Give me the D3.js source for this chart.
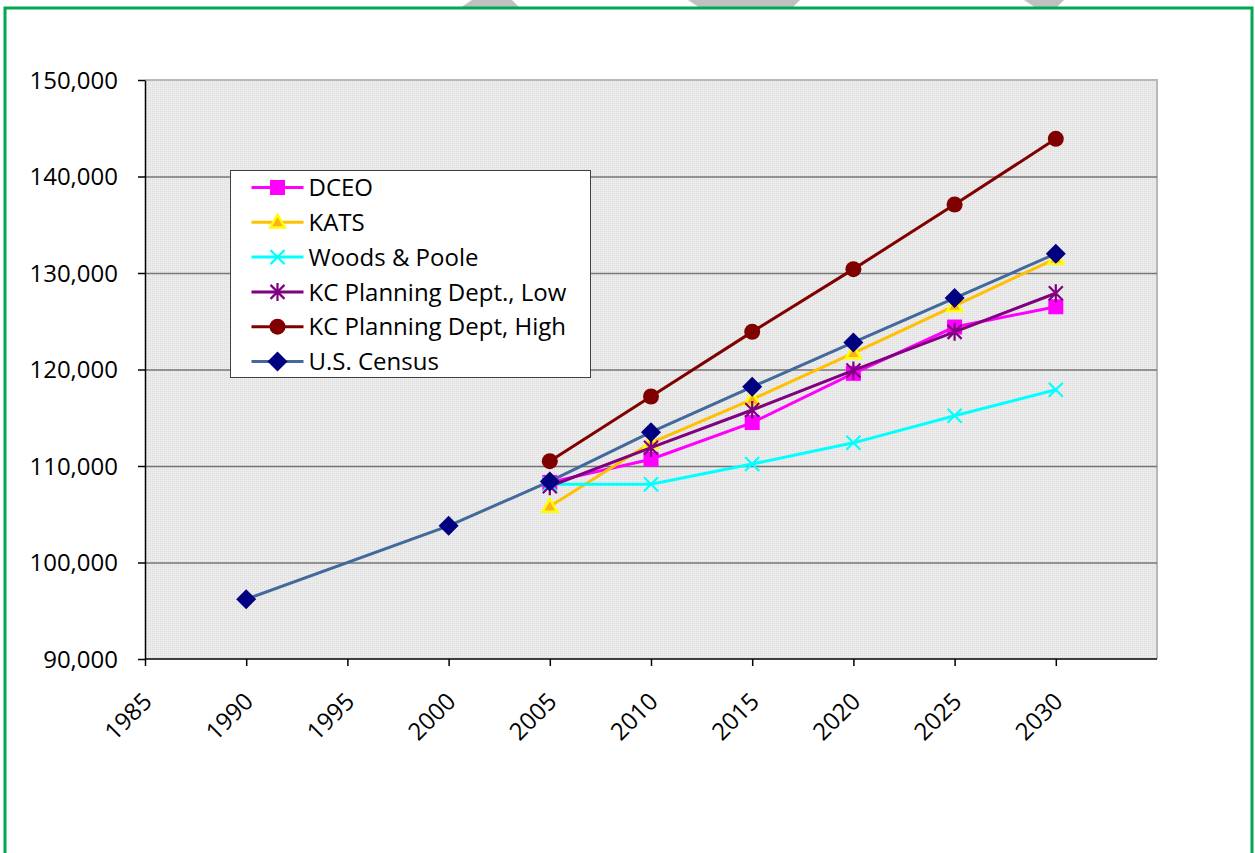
<!DOCTYPE html>
<html>
<head>
<meta charset="utf-8">
<script src="https://cdn.jsdelivr.net/npm/d3@7"></script>
<style>
    body { margin: 0; background: #ffffff; }
    svg text { font-family: "Open Sans", "DejaVu Sans", sans-serif; fill: #000000; }
</style>
</head>
<body>
<div id="charts"></div>
<script>
// Years for each series.
const census_years = [1990, 2000, 2005, 2010, 2015, 2020, 2025, 2030];
const proj_years = [2005, 2010, 2015, 2020, 2025, 2030];

// Population values.
const dceo = [108300, 110700, 114500, 119600, 124400, 126500];
const kats = [105800, 112400, 116900, 121700, 126600, 131500];
const woods_poole = [108100, 108100, 110200, 112400, 115200, 117900];
const kc_low = [107900, 111900, 115800, 119900, 123900, 127900];
const kc_high = [110500, 117200, 123900, 130400, 137100, 143900];
const us_census = [96200, 103800, 108400, 113500, 118200, 122800, 127400, 132000];

// Axis ticks.
const x_ticks = [1985, 1990, 1995, 2000, 2005, 2010, 2015, 2020, 2025, 2030];
const y_ticks = [90000, 100000, 110000, 120000, 130000, 140000, 150000];

const series = [
    { name: "DCEO", years: proj_years, values: dceo, line: "#ff00ff", marker: "square", fill: "#ff00ff", stroke: "none" },
    { name: "KATS", years: proj_years, values: kats, line: "#ffc000", marker: "triangle", fill: "#ffb020", stroke: "#ffff00" },
    { name: "Woods & Poole", years: proj_years, values: woods_poole, line: "#00ffff", marker: "x", fill: "none", stroke: "#00ffff" },
    { name: "KC Planning Dept., Low", years: proj_years, values: kc_low, line: "#800080", marker: "star", fill: "none", stroke: "#800080" },
    { name: "KC Planning Dept, High", years: proj_years, values: kc_high, line: "#800000", marker: "circle", fill: "#800000", stroke: "none" },
    { name: "U.S. Census", years: census_years, values: us_census, line: "#41699b", marker: "diamond", fill: "#000080", stroke: "none" }
];

let svg_width = 1255, svg_height = 853;
let margin = { top: 80, right: 98, bottom: 194, left: 145 },
    width = svg_width - margin.left - margin.right,
    height = svg_height - margin.top - margin.bottom;

let root = d3.select("#charts")
    .append("svg")
        .attr("width", svg_width)
        .attr("height", svg_height);

// Page border and the bits of decoration peeking in at the top.
let deco = [
    [[472, 0], [512, 0], [520, 8], [460, 8]],
    [[688, 0], [800, 0], [792, 8], [700, 8]],
    [[1024, 0], [1064, 0], [1056, 8], [1036, 8]]
];
root.selectAll(".deco")
    .data(deco)
    .enter()
    .append("path")
        .attr("d", d => "M" + d.join("L") + "Z")
        .attr("fill", "#c0c0c0");
root.append("path")
    .attr("d", "M5,853 V8 H1252 V853")
    .attr("fill", "none")
    .attr("stroke", "#00a84f")
    .attr("stroke-width", 3);

// Dotted fill pattern for the plot area.
let pattern = root.append("defs")
    .append("pattern")
        .attr("id", "dots")
        .attr("patternUnits", "userSpaceOnUse")
        .attr("width", 4)
        .attr("height", 4);
pattern.append("rect").attr("width", 4).attr("height", 4).attr("fill", "#e4e4e4");
pattern.append("rect").attr("x", 0).attr("y", 0).attr("width", 1).attr("height", 1).attr("fill", "#f8f8f8");
pattern.append("rect").attr("x", 2).attr("y", 2).attr("width", 1).attr("height", 1).attr("fill", "#f8f8f8");
pattern.append("rect").attr("x", 2).attr("y", 0).attr("width", 1).attr("height", 1).attr("fill", "#eeeeee");
pattern.append("rect").attr("x", 0).attr("y", 2).attr("width", 1).attr("height", 1).attr("fill", "#eeeeee");

let svg = root.append("g")
    .attr("transform", "translate(" + margin.left + "," + margin.top + ")");

// Define scales.
let x_scale = d3.scaleLinear()
    .domain([1985, 2035])
    .range([0, width]);
let y_scale = d3.scaleLinear()
    .domain([90000, 150000])
    .range([height, 0]);

// Fill the background.
svg.append("rect")
    .attr("width", width)
    .attr("height", height)
    .attr("fill", "url(#dots)");
svg.append("path")
    .attr("d", "M0,0 H" + width + " V" + height)
    .attr("fill", "none")
    .attr("stroke", "#b8b8b8")
    .attr("stroke-width", 2);

// Add the grid lines.
let y_axis_grid = d3.axisLeft(y_scale)
    .tickValues(y_ticks.slice(1, -1))
    .tickSize(-width)
    .tickFormat("");
svg.append("g")
    .attr("class", "y axis-grid")
    .call(y_axis_grid)
    .call(g => g.select(".domain").remove())
    .selectAll("line")
        .attr("stroke", "#767676")
        .attr("stroke-width", 1.3);

// Add the Y axis.
svg.append("g")
    .attr("class", "y_axis")
    .call(d3.axisLeft(y_scale).tickValues(y_ticks).tickSize(7).tickSizeOuter(0).tickPadding(20).tickFormat(d3.format(",")))
    .call(g => g.selectAll("text").style("font-size", "24px").attr("dy", "0.35em"))
    .call(g => g.selectAll("line, .domain").attr("stroke", "#000000").attr("stroke-width", 1.5));

// Add the X axis.
svg.append("g")
    .attr("class", "x_axis")
    .attr("transform", "translate(0," + height + ")")
    .call(d3.axisBottom(x_scale).tickValues(x_ticks).tickSize(7).tickSizeOuter(0).tickFormat(d3.format("d")))
    .call(g => g.selectAll(".domain").attr("d", "M0,0H" + width))
    .call(g => g.selectAll("line, .domain").attr("stroke", "#000000").attr("stroke-width", 1.5))
    .selectAll("text")
        .style("font-size", "24px")
        .style("text-anchor", "end")
        .attr("y", 0)
        .attr("dy", 0)
        .attr("transform", "translate(8,44) rotate(-45)");

// Marker shapes.
function marker(sel, s) {
    if (s.marker == "square") {
        sel.append("rect").attr("x", -7.5).attr("y", -7.5).attr("width", 15).attr("height", 15)
            .attr("fill", s.fill);
    } else if (s.marker == "triangle") {
        sel.append("path").attr("d", d3.symbol(d3.symbolTriangle, 95))
            .attr("transform", "translate(0,1)")
            .attr("fill", s.fill).attr("stroke", s.stroke).attr("stroke-width", 2.5);
    } else if (s.marker == "x") {
        sel.append("path").attr("d", "M-7,-7L7,7M-7,7L7,-7")
            .attr("stroke", s.stroke).attr("stroke-width", 2.2);
    } else if (s.marker == "star") {
        sel.append("path").attr("d", "M-7,-7L7,7M-7,7L7,-7M0,-9V9")
            .attr("stroke", s.stroke).attr("stroke-width", 2.2);
    } else if (s.marker == "circle") {
        sel.append("circle").attr("r", 8).attr("fill", s.fill);
    } else if (s.marker == "diamond") {
        sel.append("path").attr("d", "M0,-10L10,0L0,10L-10,0Z")
            .attr("fill", s.fill);
    }
}

// Draw the series lines and markers.
let line = d3.line()
    .x(d => x_scale(d[0]))
    .y(d => y_scale(d[1]));
series.forEach(function(s) {
    let pts = s.years.map((y, i) => [y, s.values[i]]);
    svg.append("path")
        .datum(pts)
        .attr("fill", "none")
        .attr("stroke", s.line)
        .attr("stroke-width", 3)
        .attr("d", line);
    svg.selectAll(null)
        .data(pts)
        .enter()
        .append("g")
            .attr("transform", d => "translate(" + x_scale(d[0]) + "," + y_scale(d[1]) + ")")
            .each(function() { marker(d3.select(this), s); });
});

// Legend.
let legend = root.append("g")
    .attr("transform", "translate(230.5,170.5)");
legend.append("rect")
    .attr("width", 360)
    .attr("height", 207)
    .attr("fill", "#ffffff")
    .attr("stroke", "#404040")
    .attr("stroke-width", 1);
series.forEach(function(s, i) {
    let row = legend.append("g")
        .attr("transform", "translate(0," + (17 + i * 34.8) + ")");
    row.append("line")
        .attr("x1", 21).attr("x2", 73)
        .attr("stroke", s.line)
        .attr("stroke-width", 3);
    marker(row.append("g").attr("transform", "translate(47,0)"), s);
    row.append("text")
        .attr("x", 78)
        .attr("dy", "0.36em")
        .style("font-size", "24px")
        .text(s.name);
});
</script>
</body>
</html>
